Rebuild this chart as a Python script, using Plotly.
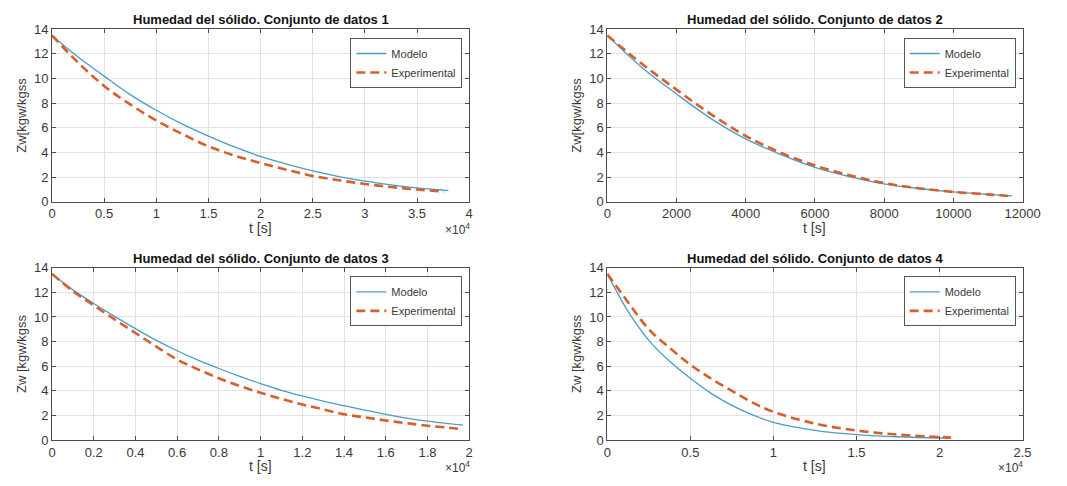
import plotly.graph_objects as go

# ---------------- data ----------------
t1 = [0, 2500, 5000, 7500, 10000, 12500, 15000, 17500, 20000, 22500, 25000, 27500, 30000, 32500, 35000, 37500, 38000]
model1 = [13.5, 11.75, 10.2, 8.7, 7.43, 6.3, 5.33, 4.45, 3.68, 3.05, 2.5, 2.05, 1.68, 1.38, 1.13, 0.95, 0.92]
t1e = [0, 2500, 5000, 7500, 10000, 12500, 15000, 17500, 20000, 22500, 25000, 27500, 30000, 32500, 35000, 37600]
exp1 = [13.5, 11.3, 9.4, 7.9, 6.6, 5.5, 4.5, 3.75, 3.15, 2.6, 2.1, 1.75, 1.45, 1.2, 1.0, 0.82]

t2 = [0, 1000, 2000, 3000, 4000, 5000, 6000, 7000, 8000, 9000, 10000, 11000, 11700]
model2 = [13.5, 10.9, 8.75, 6.75, 5.1, 3.85, 2.8, 2.05, 1.45, 1.08, 0.8, 0.6, 0.48]
exp2 = [13.5, 11.2, 9.1, 7.1, 5.35, 4.0, 2.95, 2.15, 1.52, 1.1, 0.8, 0.6, 0.45]

t3 = [0, 1000, 2000, 3000, 4000, 5000, 6000, 7000, 8000, 9000, 10000, 11000, 12000, 13000, 14000, 15000, 16000, 17000, 18000, 19000, 19700]
model3 = [13.5, 12.2, 11.1, 10.05, 9.05, 8.1, 7.26, 6.5, 5.82, 5.18, 4.59, 4.05, 3.59, 3.17, 2.8, 2.45, 2.1, 1.8, 1.55, 1.35, 1.23]
exp3 = [13.5, 12.1, 10.95, 9.8, 8.7, 7.6, 6.55, 5.75, 5.03, 4.4, 3.85, 3.35, 2.9, 2.5, 2.1, 1.85, 1.6, 1.38, 1.18, 1.02, 0.89]

t4 = [0, 1250, 2500, 3750, 5000, 6250, 7500, 8750, 10000, 12500, 15000, 17500, 20000, 20700]
model4 = [13.5, 10.45, 8.1, 6.4, 5.02, 3.8, 2.83, 2.05, 1.45, 0.8, 0.45, 0.28, 0.18, 0.17]
exp4 = [13.5, 11.2, 9.0, 7.5, 6.13, 5.0, 4.0, 3.05, 2.3, 1.35, 0.79, 0.45, 0.26, 0.22]

titles = ["Humedad del sólido. Conjunto de datos 1", "Humedad del sólido. Conjunto de datos 2",
          "Humedad del sólido. Conjunto de datos 3", "Humedad del sólido. Conjunto de datos 4"]
ylabels = ["Zw[kgw/kgss", "Zw[kgw/kgss", "Zw [kgw/kgss", "Zw [kgw/kgss"]
xlabel = "t [s]"
yticks = [0, 2, 4, 6, 8, 10, 12, 14]

xt1_vals = [0, 5000, 10000, 15000, 20000, 25000, 30000, 35000, 40000]
xt1_text = ["0", "0.5", "1", "1.5", "2", "2.5", "3", "3.5", "4"]
xt2_vals = [0, 2000, 4000, 6000, 8000, 10000, 12000]
xt2_text = ["0", "2000", "4000", "6000", "8000", "10000", "12000"]
xt3_vals = [0, 2000, 4000, 6000, 8000, 10000, 12000, 14000, 16000, 18000, 20000]
xt3_text = ["0", "0.2", "0.4", "0.6", "0.8", "1", "1.2", "1.4", "1.6", "1.8", "2"]
xt4_vals = [0, 5000, 10000, 15000, 20000, 25000]
xt4_text = ["0", "0.5", "1", "1.5", "2", "2.5"]

# ---------------- layout geometry ----------------
W, H = 1067, 486
boxes = [(49, 475, 23, 201), (616, 1040, 23, 201), (49, 475, 269, 447), (616, 1040, 269, 447)]
xranges = [[0, 40000], [0, 12000], [0, 20000], [0, 25000]]
xticks = [(xt1_vals, xt1_text), (xt2_vals, xt2_text), (xt3_vals, xt3_text), (xt4_vals, xt4_text)]
series = [(t1, model1, t1e, exp1), (t2, model2, t2, exp2), (t3, model3, t3, exp3), (t4, model4, t4, exp4)]
scaled = [True, False, True, True]

BLUE = "#4a9cc6"
ORANGE = "#d65f2c"
AXC = "#4d4d4d"
TXT = "#383838"
FONT = "Liberation Sans, Arial, sans-serif"

fig = go.Figure()
layout = dict(width=W, height=H, margin=dict(l=0, r=0, t=0, b=0),
              paper_bgcolor="white", plot_bgcolor="white", showlegend=True,
              font=dict(family=FONT, color=TXT, size=11))
annotations = []

for i in range(4):
    n = i + 1
    sfx = "" if n == 1 else str(n)
    x0, x1, y0, y1 = boxes[i]
    tm, ym, te, ye = series[i]
    leg = "legend" if n == 1 else f"legend{n}"
    fig.add_trace(go.Scatter(x=tm, y=ym, mode="lines", name="Modelo",
                             line=dict(color=BLUE, width=1.3, shape="spline"),
                             xaxis=f"x{sfx}", yaxis=f"y{sfx}", legend=leg))
    fig.add_trace(go.Scatter(x=te, y=ye, mode="lines", name="Experimental",
                             line=dict(color=ORANGE, width=2.6, dash="9px,5px", shape="spline"),
                             xaxis=f"x{sfx}", yaxis=f"y{sfx}", legend=leg))
    axcommon = dict(showline=True, linecolor=AXC, linewidth=1, mirror="ticks",
                    ticks="inside", ticklen=4, tickcolor=AXC,
                    showgrid=True, gridcolor="#e3e3e3", gridwidth=1, zeroline=False,
                    tickfont=dict(size=13, color=TXT, family=FONT))
    layout[f"xaxis{sfx}"] = dict(domain=[x0 / W, x1 / W], anchor=f"y{sfx}",
                                 range=xranges[i], tickvals=xticks[i][0], ticktext=xticks[i][1],
                                 **axcommon)
    layout[f"yaxis{sfx}"] = dict(domain=[1 - y1 / H, 1 - y0 / H], anchor=f"x{sfx}",
                                 range=[0, 14], tickvals=yticks,
                                 title=dict(text=ylabels[i], font=dict(size=13, color=TXT), standoff=4),
                                 **axcommon)
    layout[leg] = dict(x=(x1 - 7) / W, y=1 - (y0 + 9) / H, xanchor="right", yanchor="top",
                       xref="paper", yref="paper",
                       bgcolor="white", bordercolor="#555555", borderwidth=1,
                       font=dict(size=11, color=TXT, family=FONT),
                       tracegroupgap=0, itemwidth=30)
    annotations.append(dict(text=f"<b>{titles[i]}</b>", x=(x0 + x1) / 2 / W, y=1 - (y0 - 10) / H,
                            xref="paper", yref="paper", showarrow=False,
                            xanchor="center", yanchor="middle",
                            font=dict(size=13, color="#111111", family=FONT)))
    annotations.append(dict(text=xlabel, x=(x0 + x1) / 2 / W, y=1 - (y1 + 27) / H,
                            xref="paper", yref="paper", showarrow=False,
                            xanchor="center", yanchor="middle",
                            font=dict(size=14, color=TXT, family=FONT)))
    if scaled[i]:
        annotations.append(dict(text="×10<sup>4</sup>", x=(x1 + 3) / W, y=1 - (y1 + 28) / H,
                                xref="paper", yref="paper", showarrow=False,
                                xanchor="right", yanchor="middle",
                                font=dict(size=12, color=TXT, family=FONT)))

layout["annotations"] = annotations
fig.update_layout(**layout)
fig.write_html("out.html")
